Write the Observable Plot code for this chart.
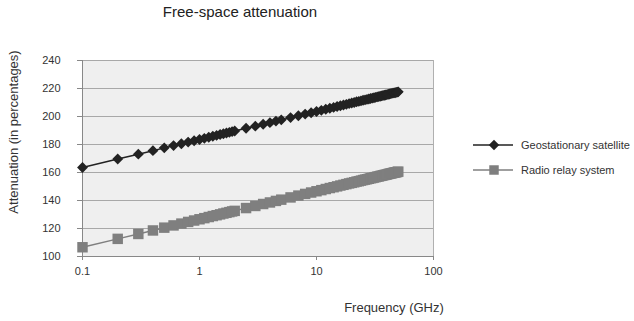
<!DOCTYPE html>
<html><head><meta charset="utf-8">
<script src="https://cdn.jsdelivr.net/npm/d3@7"></script>
<script src="https://cdn.jsdelivr.net/npm/@observablehq/plot@0.6"></script>
<style>body{margin:0;background:#fff;font-family:"Liberation Sans",Arial,sans-serif}</style>
</head><body><div id="chart"></div>
<script>
const frequencies = [0.1,0.2,0.3,0.4,0.5,0.6,0.7,0.8,0.9,1.0,1.1,1.2,1.3,1.4,1.5,1.6,1.7,1.8,1.9,2.0,
  2.5,3,3.5,4,4.5,5,6,7,8,9,10,11,12,13,14,15,16,17,18,19,20,21,22,23,24,25,26,27,28,29,30,
  31,32,33,34,35,36,37,38,39,40,41,42,43,44,45,46,47,48,49,50];
const geostationary = [163.6,169.6,173.1,175.6,177.6,179.2,180.5,181.7,182.7,183.6,184.4,185.2,185.9,186.5,187.1,187.7,188.2,188.7,189.2,189.6,
  191.6,193.1,194.5,195.6,196.7,197.6,199.2,200.5,201.7,202.7,203.6,204.4,205.2,205.9,206.5,207.1,207.7,208.2,208.7,209.2,209.6,
  210.0,210.5,210.8,211.2,211.6,211.9,212.2,212.5,212.9,213.1,213.4,213.7,214.0,214.2,214.5,214.7,215.0,215.2,215.4,215.6,
  215.9,216.1,216.3,216.5,216.7,216.9,217.0,217.2,217.4,217.6];
const radioRelay = [106.6,112.6,116.1,118.6,120.6,122.2,123.5,124.7,125.7,126.6,127.4,128.2,128.9,129.5,130.1,130.7,131.2,131.7,132.2,132.6,
  134.6,136.1,137.5,138.6,139.7,140.6,142.2,143.5,144.7,145.7,146.6,147.4,148.2,148.9,149.5,150.1,150.7,151.2,151.7,152.2,152.6,
  153.0,153.5,153.8,154.2,154.6,154.9,155.2,155.5,155.9,156.1,156.4,156.7,157.0,157.2,157.5,157.7,158.0,158.2,158.4,158.6,
  158.9,159.1,159.3,159.5,159.7,159.9,160.0,160.2,160.4,160.6];
const seriesNames = ["Geostationary satellite","Radio relay system"];
const xTicks = [0.1,1,10,100];
const xTickLabels = ["0.1","1","10","100"];
const yTicks = [100,120,140,160,180,200,220,240];

const geo = frequencies.map((f,i)=>({f, v: geostationary[i]}));
const relay = frequencies.map((f,i)=>({f, v: radioRelay[i]}));

const plot = Plot.plot({
  width: 634, height: 321,
  marginLeft: 82, marginRight: 201, marginTop: 60, marginBottom: 65,
  style: {fontFamily: '"Liberation Sans", Arial, sans-serif', fontSize: "11px", color: "#333", background: "#fff"},
  x: {type: "log", domain: [0.1, 100]},
  y: {domain: [100, 240]},
  marks: [
    Plot.frame({fill: "#efefef", stroke: "#b0b0b0"}),
    Plot.gridY(yTicks, {stroke: "#a8a8a8", strokeOpacity: 1, strokeWidth: 1}),
    Plot.axisY({ticks: yTicks, tickSize: 5, tickPadding: 17, label: null, stroke: "#888"}),
    Plot.axisX({ticks: xTicks, tickFormat: (d)=>xTickLabels[xTicks.indexOf(d)], tickSize: 4, tickPadding: 7, label: null, stroke: "#888"}),
    Plot.ruleY([100], {stroke: "#888"}),
    Plot.ruleX([0.1], {stroke: "#888"}),
    Plot.line(relay, {x: "f", y: "v", stroke: "#7f7f7f", strokeWidth: 1.5}),
    Plot.dot(relay, {x: "f", y: "v", symbol: "square", r: 5.9, fill: "#7f7f7f", stroke: "none"}),
    Plot.line(geo, {x: "f", y: "v", stroke: "#222", strokeWidth: 1.5}),
    Plot.dot(geo, {x: "f", y: "v", symbol: "diamond2", r: 4.9, fill: "#222", stroke: "none"})
  ]
});

const svg = d3.select(plot);
const font = '"Liberation Sans", Arial, sans-serif';
svg.append("text").attr("x", 240).attr("y", 17).attr("text-anchor", "middle")
  .attr("font-size", 15).attr("font-family", font).attr("fill", "#222").text("Free-space attenuation");
svg.append("text").attr("transform", "translate(18,132) rotate(-90)").attr("text-anchor", "middle")
  .attr("font-size", 13).attr("font-family", font).attr("fill", "#333").text("Attenuation (in percentages)");
svg.append("text").attr("x", 394).attr("y", 312).attr("text-anchor", "middle")
  .attr("font-size", 13).attr("font-family", font).attr("fill", "#333").text("Frequency (GHz)");

const leg = svg.append("g");
const legendStyles = [
  {color: "#222", sym: d3.symbolDiamond2, size: 70},
  {color: "#7f7f7f", sym: d3.symbolSquare, size: 90}
];
seriesNames.forEach((name, i) => {
  const y = 145 + i * 25;
  const s = legendStyles[i];
  leg.append("line").attr("x1", 473).attr("x2", 513).attr("y1", y).attr("y2", y)
    .attr("stroke", s.color).attr("stroke-width", 1.5);
  leg.append("path").attr("d", d3.symbol(s.sym, s.size)()).attr("transform", `translate(494,${y})`)
    .attr("fill", s.color);
  leg.append("text").attr("x", 521).attr("y", y).attr("dy", "0.35em").attr("text-anchor", "start")
    .attr("font-size", 11).attr("font-family", font).attr("fill", "#333").text(name);
});

document.getElementById("chart").appendChild(plot);
</script></body></html>
